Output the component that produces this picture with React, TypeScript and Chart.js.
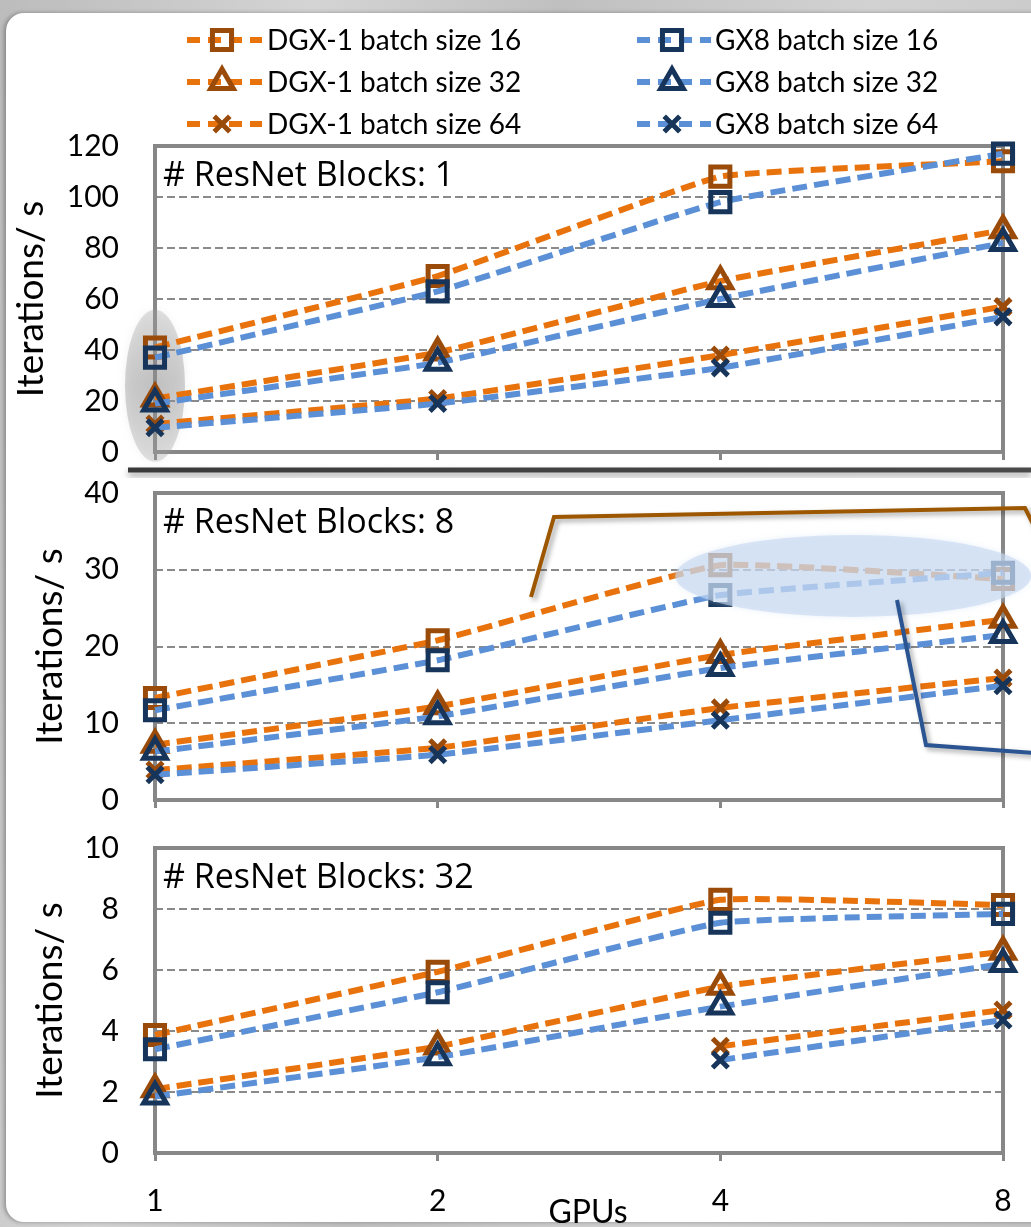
import React, { useEffect, useRef } from 'react';
import { Chart, registerables } from 'chart.js';

Chart.register(...registerables);

// ---------- data ----------
const gpuLabels = ['1', '2', '4', '8'];
const seriesNames = [
  'DGX-1 batch size 16',
  'DGX-1 batch size 32',
  'DGX-1 batch size 64',
  'GX8 batch size 16',
  'GX8 batch size 32',
  'GX8 batch size 64',
];
const yAxisTitle = 'Iterations/ s';
const xAxisTitle = 'GPUs';
const panelTitles = ['# ResNet Blocks: 1', '# ResNet Blocks: 8', '# ResNet Blocks: 32'];
const panelYMax = [120, 40, 10];
const panelYStep = [20, 10, 2];

// panel 1 (# ResNet Blocks: 1)
const p1Dgx16 = [41, 69, 108, 114];
const p1Dgx32 = [21, 39, 67, 87];
const p1Dgx64 = [11, 21, 38, 57];
const p1Gx16 = [37, 63, 98, 117];
const p1Gx32 = [19, 35, 60, 82];
const p1Gx64 = [9.5, 19, 33, 53];

// panel 2 (# ResNet Blocks: 8)
const p2Dgx16 = [13.3, 20.8, 30.6, 28.8];
const p2Dgx32 = [7.2, 12.2, 18.9, 23.5];
const p2Dgx64 = [3.9, 6.8, 12.0, 15.9];
const p2Gx16 = [11.7, 18.2, 26.7, 29.6];
const p2Gx32 = [6.3, 10.9, 17.2, 21.5];
const p2Gx64 = [3.3, 5.9, 10.4, 14.9];

// panel 3 (# ResNet Blocks: 32)
const p3Dgx16 = [3.87, 5.94, 8.3, 8.13];
const p3Dgx32 = [2.09, 3.49, 5.45, 6.6];
const p3Dgx64 = [null, null, 3.5, 4.69];
const p3Gx16 = [3.4, 5.27, 7.55, 7.84];
const p3Gx32 = [1.85, 3.14, 4.8, 6.2];
const p3Gx64 = [null, null, 3.05, 4.36];

const panelSeries = [
  [p1Dgx16, p1Dgx32, p1Dgx64, p1Gx16, p1Gx32, p1Gx64],
  [p2Dgx16, p2Dgx32, p2Dgx64, p2Gx16, p2Gx32, p2Gx64],
  [p3Dgx16, p3Dgx32, p3Dgx64, p3Gx16, p3Gx32, p3Gx64],
];

// ---------- styles ----------
const ORANGE = '#E8720C';
const BROWN = '#9A4B0A';
const BLUE = '#5B8FD6';
const NAVY = '#17355A';
const FRAME = '#878787';
const FONT = "Lato, 'Open Sans', sans-serif";
const TITLE_FONT = "'Open Sans', Lato, sans-serif";
const markerStyles = ['rect', 'triangle', 'crossRot'];
const markerRadii = [13.5, 13, 11];
const LINE_DASH = [15, 7];

// canvas geometry: [canvasTop, canvasHeight, areaTop(in canvas), areaBottom(in canvas)]
const CANVAS_GEOM = [
  [0, 478, 146, 452],
  [460, 365, 33, 340],
  [810, 417, 38, 343],
];

function drawMarker(ctx: CanvasRenderingContext2D, style: string, x: number, y: number, r: number) {
  ctx.beginPath();
  if (style === 'rect') {
    const s = r * Math.SQRT1_2;
    ctx.rect(x - s, y - s, 2 * s, 2 * s);
  } else if (style === 'triangle') {
    let a = 0;
    ctx.moveTo(x + Math.sin(a) * r, y - Math.cos(a) * r);
    a += (2 * Math.PI) / 3;
    ctx.lineTo(x + Math.sin(a) * r, y - Math.cos(a) * r);
    a += (2 * Math.PI) / 3;
    ctx.lineTo(x + Math.sin(a) * r, y - Math.cos(a) * r);
    ctx.closePath();
  } else {
    const o = r * Math.SQRT1_2;
    ctx.moveTo(x - o, y - o);
    ctx.lineTo(x + o, y + o);
    ctx.moveTo(x + o, y - o);
    ctx.lineTo(x - o, y + o);
  }
  ctx.stroke();
}

function buildDatasets(series: (number | null)[][]) {
  return series.map((data, i) => {
    const dgx = i < 3;
    const k = i % 3;
    return {
      label: seriesNames[i],
      data,
      borderColor: dgx ? ORANGE : BLUE,
      borderWidth: 6,
      borderDash: LINE_DASH,
      borderCapStyle: 'butt',
      tension: 0.1,
      fill: false,
      clip: false,
      pointStyle: markerStyles[k],
      pointRadius: markerRadii[k],
      pointHoverRadius: markerRadii[k],
      pointBorderColor: dgx ? BROWN : NAVY,
      pointBackgroundColor: 'rgba(0,0,0,0)',
      pointBorderWidth: 5,
      order: dgx ? 1 : 0,
    };
  });
}

const framePlugin = (panelIndex: number) => ({
  id: 'frame' + panelIndex,
  beforeDatasetsDraw(chart: any) {
    const { ctx, chartArea: a } = chart;
    ctx.save();
    ctx.strokeStyle = FRAME;
    ctx.lineWidth = 4;
    ctx.setLineDash([]);
    ctx.strokeRect(a.left, a.top, a.right - a.left, a.bottom - a.top);
    ctx.fillStyle = '#000';
    ctx.font = `34px ${TITLE_FONT}`;
    ctx.textBaseline = 'alphabetic';
    ctx.textAlign = 'left';
    ctx.fillText(panelTitles[panelIndex], a.left + 8, a.top + 40);
    ctx.restore();
  },
});

const legendPlugin = {
  id: 'legendTop',
  afterDraw(chart: any) {
    const { ctx } = chart;
    const cols = [
      { x0: 187, x1: 262, mx: 222, tx: 267 },
      { x0: 637, x1: 711, mx: 672, tx: 715 },
    ];
    const rows = [40, 82, 124];
    ctx.save();
    for (let i = 0; i < 6; i++) {
      const c = cols[i < 3 ? 0 : 1];
      const y = rows[i % 3];
      const dgx = i < 3;
      ctx.strokeStyle = dgx ? ORANGE : BLUE;
      ctx.lineWidth = 6;
      ctx.setLineDash([13, 8]);
      ctx.beginPath();
      ctx.moveTo(c.x0, y);
      ctx.lineTo(c.x1, y);
      ctx.stroke();
      ctx.setLineDash([]);
      ctx.strokeStyle = dgx ? BROWN : NAVY;
      ctx.lineWidth = 5;
      drawMarker(ctx, markerStyles[i % 3], c.mx, y, markerRadii[i % 3]);
      ctx.fillStyle = '#000';
      ctx.font = `28px ${FONT}`;
      ctx.textBaseline = 'alphabetic';
      ctx.textAlign = 'left';
      ctx.fillText(seriesNames[i], c.tx, y + 10);
    }
    // dark separator bar under panel 1
    ctx.shadowColor = 'rgba(0,0,0,0.35)';
    ctx.shadowBlur = 6;
    ctx.shadowOffsetY = 4;
    const g = ctx.createLinearGradient(128, 0, 1031, 0);
    g.addColorStop(0, '#3a3a3a');
    g.addColorStop(1, '#4a4a4a');
    ctx.strokeStyle = g;
    ctx.lineWidth = 5;
    ctx.beginPath();
    ctx.moveTo(128, 470);
    ctx.lineTo(1031, 470);
    ctx.stroke();
    ctx.restore();
  },
};

const grayEllipsePlugin = {
  id: 'grayEllipse',
  beforeDatasetsDraw(chart: any) {
    const { ctx } = chart;
    const xs = chart.scales.x;
    const ys = chart.scales.y;
    const cx = xs.getPixelForValue(0);
    const cy = ys.getPixelForValue(26);
    ctx.save();
    const g = ctx.createRadialGradient(cx, cy, 5, cx, cy, 76);
    g.addColorStop(0, 'rgba(140,140,140,0.45)');
    g.addColorStop(1, 'rgba(160,160,160,0.3)');
    ctx.fillStyle = g;
    ctx.shadowColor = 'rgba(150,150,150,0.35)';
    ctx.shadowBlur = 8;
    ctx.beginPath();
    ctx.ellipse(cx, cy, 30, 76, 0, 0, Math.PI * 2);
    ctx.fill();
    ctx.restore();
  },
};

const panel2DecorPlugin = {
  id: 'panel2Decor',
  afterDatasetsDraw(chart: any) {
    const { ctx } = chart;
    const xs = chart.scales.x;
    const ys = chart.scales.y;
    const x4 = xs.getPixelForValue(2);
    const x8 = xs.getPixelForValue(3);
    const cx = x4 + (x8 - x4) * 0.47;
    const cy = ys.getPixelForValue(29.2);
    ctx.save();
    ctx.fillStyle = 'rgba(198,217,241,0.62)';
    ctx.shadowColor = 'rgba(198,217,241,0.6)';
    ctx.shadowBlur = 6;
    ctx.beginPath();
    ctx.ellipse(cx, cy, 178, 41, 0, 0, Math.PI * 2);
    ctx.fill();
    ctx.restore();
  },
  afterDraw(chart: any) {
    const { ctx } = chart;
    ctx.save();
    ctx.translate(0, -CANVAS_GEOM[1][0]);
    ctx.lineJoin = 'miter';
    ctx.shadowColor = 'rgba(0,0,0,0.35)';
    ctx.shadowBlur = 5;
    ctx.shadowOffsetX = 3;
    ctx.shadowOffsetY = 3;
    ctx.lineWidth = 4;
    ctx.strokeStyle = '#9C5700';
    ctx.beginPath();
    ctx.moveTo(531, 597);
    ctx.lineTo(554, 517);
    ctx.lineTo(1025, 508);
    ctx.lineTo(1036, 530);
    ctx.stroke();
    ctx.strokeStyle = '#2B5592';
    ctx.beginPath();
    ctx.moveTo(897, 600);
    ctx.lineTo(926, 745);
    ctx.lineTo(1036, 753);
    ctx.stroke();
    ctx.restore();
  },
};

const gpusLabelPlugin = {
  id: 'gpusLabel',
  afterDraw(chart: any) {
    const { ctx, chartArea: a } = chart;
    ctx.save();
    ctx.fillStyle = '#000';
    ctx.font = `32px ${FONT}`;
    ctx.textAlign = 'center';
    ctx.textBaseline = 'alphabetic';
    ctx.fillText(xAxisTitle, (a.left + a.right) / 2 + 9, chart.height - 4);
    ctx.restore();
  },
};

function makeConfig(panelIndex: number, showXLabels: boolean, titlePad: number, extraPlugins: any[]) {
  const [, canvasHeight, areaTop, areaBottom] = CANVAS_GEOM[panelIndex];
  return {
    type: 'line',
    data: { labels: gpuLabels, datasets: buildDatasets(panelSeries[panelIndex]) },
    options: {
      responsive: false,
      maintainAspectRatio: false,
      animation: false,
      devicePixelRatio: 1,
      layout: { autoPadding: false, padding: { left: 0, right: 28, top: areaTop, bottom: 0 } },
      plugins: { legend: { display: false }, tooltip: { enabled: false }, title: { display: false } },
      events: [],
      scales: {
        x: {
          type: 'category',
          offset: false,
          border: { display: false },
          grid: {
            display: true,
            drawOnChartArea: false,
            drawTicks: true,
            tickLength: 8,
            tickColor: FRAME,
            tickWidth: 3,
          },
          ticks: {
            display: showXLabels,
            color: '#000',
            font: { family: FONT, size: 30, lineHeight: 2.67 },
            padding: 0,
            maxRotation: 0,
            autoSkip: false,
          },
          afterFit: (s: any) => {
            s.height = canvasHeight - areaBottom;
          },
        },
        y: {
          min: 0,
          max: panelYMax[panelIndex],
          border: { display: false, dash: [8, 4] },
          grid: {
            color: '#8a8a8a',
            lineWidth: 2,
            drawTicks: true,
            tickLength: 33,
            tickColor: 'rgba(0,0,0,0)',
          },
          ticks: {
            stepSize: panelYStep[panelIndex],
            color: '#000',
            font: { family: FONT, size: 30, lineHeight: 1 },
            padding: 3,
          },
          title: {
            display: true,
            text: yAxisTitle,
            color: '#000',
            font: { family: FONT, size: 37 },
            padding: { top: titlePad, bottom: 0 },
          },
          afterFit: (s: any) => {
            s.width = 155;
          },
        },
      },
    },
    plugins: [framePlugin(panelIndex), ...extraPlugins],
  };
}

export default function App() {
  const c1 = useRef<HTMLCanvasElement>(null);
  const c2 = useRef<HTMLCanvasElement>(null);
  const c3 = useRef<HTMLCanvasElement>(null);

  useEffect(() => {
    const charts: Chart[] = [];
    if (c1.current)
      charts.push(new Chart(c1.current, makeConfig(0, false, 9, [grayEllipsePlugin, legendPlugin]) as any));
    if (c2.current) charts.push(new Chart(c2.current, makeConfig(1, false, 28, [panel2DecorPlugin]) as any));
    if (c3.current) charts.push(new Chart(c3.current, makeConfig(2, true, 28, [gpusLabelPlugin]) as any));
    return () => charts.forEach((c) => c.destroy());
  }, []);

  const canvasStyle = (i: number): React.CSSProperties => ({
    position: 'absolute',
    left: 0,
    top: CANVAS_GEOM[i][0],
    width: 1031,
    height: CANVAS_GEOM[i][1],
  });

  return (
    <div
      style={{
        position: 'absolute',
        left: 0,
        top: 0,
        width: 1031,
        height: 1227,
        overflow: 'hidden',
        background: 'linear-gradient(100deg, #bcbcbc 0%, #d4d4d4 25%, #c0c0c0 45%, #d2d2d2 70%, #c4c4c4 100%)',
      }}
    >
      <div
        style={{
          position: 'absolute',
          left: 6,
          top: 13,
          width: 1200,
          height: 1209,
          background: '#fff',
          borderRadius: 18,
          boxShadow: '-2px 0 4px rgba(0,0,0,0.3)',
        }}
      />
      <canvas ref={c1} width={1031} height={CANVAS_GEOM[0][1]} style={canvasStyle(0)} />
      <canvas ref={c2} width={1031} height={CANVAS_GEOM[1][1]} style={canvasStyle(1)} />
      <canvas ref={c3} width={1031} height={CANVAS_GEOM[2][1]} style={canvasStyle(2)} />
    </div>
  );
}
